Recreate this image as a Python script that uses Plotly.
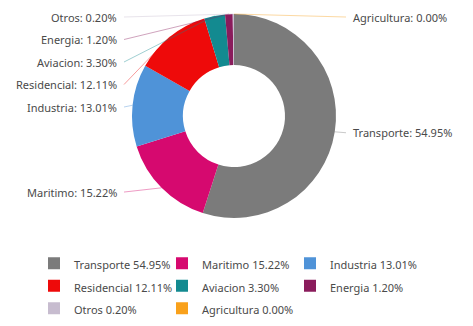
import math
import plotly.graph_objects as go

# Emisiones por sector (%)
sectores = ["Transporte", "Maritimo", "Industria", "Residencial",
            "Aviacion", "Energia", "Otros", "Agricultura"]
porcentajes = [54.95, 15.22, 13.01, 12.11, 3.30, 1.20, 0.20, 0.00]
colores = ["#7b7b7b", "#d6096f", "#4f93d8", "#ee0a0a",
           "#138a90", "#8a1c5c", "#c7bccf", "#f9a11b"]

W, H = 473, 326
CX, CY, R = 234, 116, 102          # donut centre and outer radius (px)
FONT = "Noto Sans"
TXT = "#4a4a4a"

# legend font is larger than the visible text so the rows get more spacing
legend_labels = [f'<span style="font-size:11px">{s} {v:.2f}%</span>'
                 for s, v in zip(sectores, porcentajes)]

fig = go.Figure()
fig.add_trace(go.Pie(
    labels=legend_labels,
    values=porcentajes,
    marker=dict(colors=colores, line=dict(width=0)),
    hole=0.5,
    sort=False,
    direction="clockwise",
    rotation=0,
    textinfo="none",
    hoverinfo="label",
    domain=dict(x=[(CX - R) / W, (CX + R) / W],
                y=[1 - (CY + R) / H, 1 - (CY - R) / H]),
))

# Outside labels with leader lines, placed from each slice's mid angle
total = sum(porcentajes)
acc = 0.0
items = []
for s, v, c in zip(sectores, porcentajes, colores):
    a0 = acc / total * 2 * math.pi
    acc += v
    a1 = acc / total * 2 * math.pi
    mid = (a0 + a1) / 2
    ex, ey = CX + R * math.sin(mid), CY - R * math.cos(mid)
    ny = CY - (R + 6) * math.cos(mid)
    side = "left" if math.sin(mid) < -1e-9 else "right"
    items.append(dict(name=s, val=v, color=c, ex=ex, ey=ey, ny=ny, side=side))

SPACING = 22.5
TOP = CY - R + 3
for side in ("left", "right"):
    group = sorted([it for it in items if it["side"] == side], key=lambda d: d["ny"])
    prev = None
    for it in group:
        y = max(it["ny"], TOP)
        if prev is not None:
            y = max(y, prev + SPACING)
        it["ly"] = y
        prev = y

def px(x):
    return x / W

def py(y):
    return 1 - y / H

for it in items:
    if it["side"] == "left":
        lx, tx, anchor = CX - 110, CX - 115, "right"
    else:
        lx, tx, anchor = CX + 112, CX + 117, "left"
    fig.add_shape(type="line", xref="paper", yref="paper",
                  x0=px(it["ex"]), y0=py(it["ey"]), x1=px(lx), y1=py(it["ly"]),
                  line=dict(color=it["color"], width=1), opacity=0.4)
    fig.add_annotation(xref="paper", yref="paper", x=px(tx), y=py(it["ly"]),
                       xanchor=anchor, yanchor="middle", showarrow=False,
                       text=f"{it['name']}: {it['val']:.2f}%",
                       font=dict(family=FONT, size=11, color=TXT))

fig.update_layout(
    width=W, height=H,
    margin=dict(l=0, r=0, t=0, b=0),
    paper_bgcolor="white", plot_bgcolor="white",
    font=dict(family=FONT, size=11, color=TXT),
    showlegend=True,
    legend=dict(orientation="h", x=px(34), y=py(247), xanchor="left", yanchor="top",
                entrywidth=83, entrywidthmode="pixels",
                font=dict(family=FONT, size=15, color=TXT),
                traceorder="normal"),
)

fig.write_html("out.html")
